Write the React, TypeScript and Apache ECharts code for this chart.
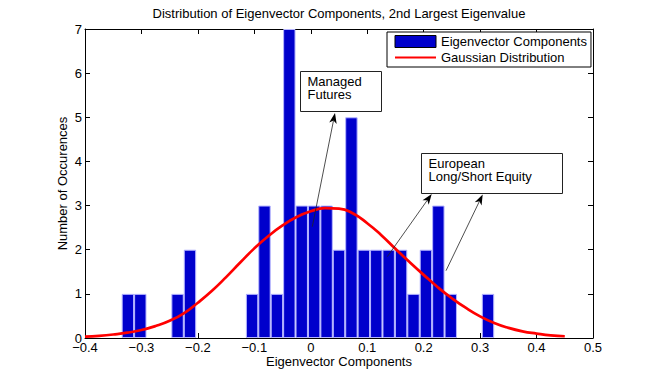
import React, { useEffect, useRef } from 'react';
import * as echarts from 'echarts';

// Histogram bins (centers) and counts
const binCenters = [
  -0.324, -0.302, -0.28, -0.258, -0.236, -0.214, -0.192, -0.17, -0.148, -0.126,
  -0.104, -0.082, -0.06, -0.038, -0.016, 0.006, 0.028, 0.05, 0.072, 0.094,
  0.116, 0.138, 0.16, 0.182, 0.204, 0.226, 0.248, 0.27, 0.292, 0.314,
];
const binCounts = [
  1, 1, 0, 0, 1, 2, 0, 0, 0, 0,
  1, 3, 1, 7, 3, 3, 3, 2, 5, 2,
  2, 2, 2, 1, 2, 3, 1, 0, 0, 1,
];

// Gaussian curve points
const gaussX = [
  -0.4, -0.375, -0.35, -0.325, -0.3, -0.275, -0.25, -0.225, -0.2, -0.175,
  -0.15, -0.125, -0.1, -0.075, -0.05, -0.025, 0, 0.025, 0.05, 0.075,
  0.1, 0.125, 0.15, 0.175, 0.2, 0.225, 0.25, 0.275, 0.3, 0.325,
  0.35, 0.375, 0.4, 0.425, 0.45,
];
const gaussY = [
  0.03, 0.05, 0.08, 0.12, 0.18, 0.27, 0.39, 0.56, 0.8, 1.07,
  1.38, 1.71, 2.03, 2.31, 2.55, 2.74, 2.87, 2.94, 2.93, 2.82,
  2.6, 2.33, 2.02, 1.72, 1.43, 1.15, 0.9, 0.68, 0.49, 0.34,
  0.23, 0.15, 0.1, 0.06, 0.04,
];

const xTickLabels = ['−0.4', '−0.3', '−0.2', '−0.1', '0', '0.1', '0.2', '0.3', '0.4', '0.5'];
const yTickLabels = ['0', '1', '2', '3', '4', '5', '6', '7'];

const titleText = 'Distribution of Eigenvector Components, 2nd Largest Eigenvalue';
const xName = 'Eigenvector Components';
const yName = 'Number of Occurences';
const barName = 'Eigenvector Components';
const lineName = 'Gaussian Distribution';
const note1 = ['Managed', 'Futures'];
const note2 = ['European', 'Long/Short Equity'];

const FONT = '"Liberation Sans", Arial, Helvetica, sans-serif';
const FS = 13;

function arrowEls(x1: number, y1: number, x2: number, y2: number) {
  const dx = x2 - x1;
  const dy = y2 - y1;
  const L = Math.hypot(dx, dy);
  const ux = dx / L;
  const uy = dy / L;
  const hl = 10.5;
  const hw = 3.8;
  const bx = x2 - ux * hl;
  const by = y2 - uy * hl;
  const nx = x2 - ux * hl * 0.72;
  const ny = y2 - uy * hl * 0.72;
  const px = -uy;
  const py = ux;
  return [
    {
      type: 'line',
      z: 20,
      shape: { x1, y1, x2: nx, y2: ny },
      style: { stroke: '#222', lineWidth: 0.8 },
    },
    {
      type: 'polygon',
      z: 20,
      shape: {
        points: [
          [x2, y2],
          [bx + px * hw, by + py * hw],
          [nx, ny],
          [bx - px * hw, by - py * hw],
        ],
      },
      style: { fill: '#000' },
    },
  ];
}

function noteText(x: number, y: number, lines: string[]) {
  return {
    type: 'text',
    z: 21,
    x,
    y,
    style: {
      text: lines.join('\n'),
      fontFamily: FONT,
      fontSize: FS,
      lineHeight: 12.8,
      fill: '#000',
      align: 'left',
      verticalAlign: 'top',
    },
  };
}

export default function App() {
  const ref = useRef<HTMLDivElement>(null);

  useEffect(() => {
    const chart = echarts.init(ref.current!, null, { renderer: 'svg' });

    const axisLine = { onZero: false, lineStyle: { color: '#000', width: 1 } };
    const axisTick = { inside: true, length: 5, lineStyle: { color: '#000', width: 1 } };
    const labelStyle = { fontFamily: FONT, fontSize: FS, color: '#000' };

    const option: any = {
      animation: false,
      backgroundColor: '#fff',
      title: {
        text: titleText,
        left: 339,
        top: 7,
        padding: 0,
        textAlign: 'center',
        textStyle: { ...labelStyle, fontWeight: 'normal' },
      },
      legend: {
        orient: 'vertical',
        left: 387,
        top: 32,
        padding: [3, 4, 3, 7],
        itemGap: 3,
        itemWidth: 41,
        itemHeight: 12,
        borderColor: '#000',
        borderWidth: 1,
        borderRadius: 0,
        backgroundColor: '#fff',
        textStyle: labelStyle,
        data: [
          { name: barName, icon: 'rect', itemStyle: { borderColor: '#000', borderWidth: 1 } },
          { name: lineName, itemStyle: { opacity: 0 } },
        ],
      },
      grid: { left: 85, top: 29, right: 61, bottom: 44, containLabel: false },
      xAxis: [
        {
          type: 'value',
          min: -0.4,
          max: 0.5,
          interval: 0.1,
          position: 'bottom',
          axisLine,
          axisTick,
          splitLine: { show: false },
          axisLabel: {
            ...labelStyle,
            margin: 3,
            lineHeight: 13,
            formatter: (v: number) => xTickLabels[Math.round((v + 0.4) / 0.1)],
          },
          name: xName,
          nameLocation: 'middle',
          nameGap: 17,
          nameMoveOverlap: false,
          nameTextStyle: { ...labelStyle, lineHeight: 13 },
        },
        {
          type: 'value',
          min: -0.4,
          max: 0.5,
          interval: 0.1,
          position: 'top',
          axisLine,
          axisTick,
          splitLine: { show: false },
          axisLabel: { show: false },
        },
      ],
      yAxis: [
        {
          type: 'value',
          min: 0,
          max: 7,
          interval: 1,
          position: 'left',
          axisLine,
          axisTick,
          splitLine: { show: false },
          axisLabel: {
            ...labelStyle,
            margin: 3,
            lineHeight: 12,
            formatter: (v: number) => yTickLabels[Math.round(v)],
          },
          name: yName,
          nameLocation: 'middle',
          nameGap: 16,
          nameMoveOverlap: false,
          nameRotate: 90,
          nameTextStyle: labelStyle,
        },
        {
          type: 'value',
          min: 0,
          max: 7,
          interval: 1,
          position: 'right',
          axisLine,
          axisTick,
          splitLine: { show: false },
          axisLabel: { show: false },
        },
      ],
      series: [
        {
          name: barName,
          type: 'bar',
          xAxisIndex: 0,
          yAxisIndex: 0,
          barWidth: 12.4,
          itemStyle: { color: '#0000cc', borderColor: '#b4b4ff', borderWidth: 1 },
          data: binCenters
            .map((c, i) => [c, binCounts[i]])
            .filter((d) => d[1] > 0),
          z: 2,
        },
        {
          name: lineName,
          type: 'line',
          xAxisIndex: 0,
          yAxisIndex: 0,
          smooth: true,
          symbol: 'none',
          lineStyle: { color: '#ff0000', width: 2.7 },
          itemStyle: { color: '#ff0000' },
          data: gaussX.map((x, i) => [x, gaussY[i]]),
          z: 3,
        },
      ],
      graphic: {
        elements: [
          {
            type: 'rect',
            z: 19,
            shape: { x: 300.5, y: 71.5, width: 81, height: 40 },
            style: { fill: '#fff', stroke: '#222', lineWidth: 1 },
          },
          noteText(307.5, 75.3, note1),
          {
            type: 'rect',
            z: 19,
            shape: { x: 421.5, y: 153.5, width: 141, height: 40 },
            style: { fill: '#fff', stroke: '#222', lineWidth: 1 },
          },
          noteText(428.5, 157.1, note2),
          ...arrowEls(312.3, 226.7, 335, 113),
          ...arrowEls(387.3, 256.7, 431.7, 194),
          ...arrowEls(446, 270.7, 482.7, 194.5),
        ],
      },
    };

    chart.setOption(option);
    return () => chart.dispose();
  }, []);

  return (
    <div
      ref={ref}
      style={{ position: 'absolute', left: 0, top: 0, width: 654, height: 382, background: '#fff' }}
    />
  );
}
